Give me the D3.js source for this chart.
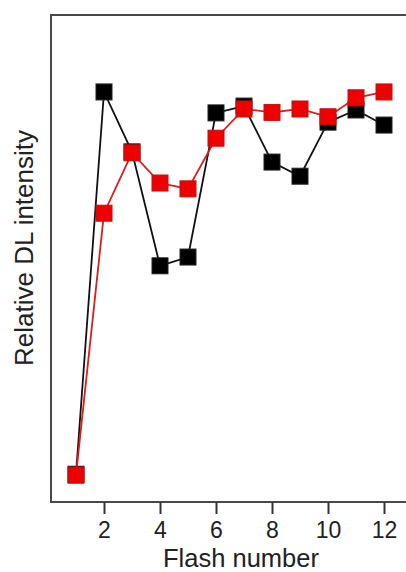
<!DOCTYPE html>
<html>
<head>
<meta charset="utf-8">
<script src="https://cdn.jsdelivr.net/npm/d3@7"></script>
<style>
  html, body { margin: 0; padding: 0; background: #fff; }
  svg { display: block; }
</style>
</head>
<body>
<svg id="chart" width="406" height="572"></svg>
<script>
const flashes = [1, 2, 3, 4, 5, 6, 7, 8, 9, 10, 11, 12];
const blackSeries = [0.057, 0.842, 0.719, 0.485, 0.503, 0.799, 0.813, 0.698, 0.669, 0.780, 0.805, 0.774];
const redSeries   = [0.055, 0.593, 0.717, 0.655, 0.643, 0.747, 0.807, 0.800, 0.807, 0.791, 0.830, 0.842];
const xTicks = [2, 4, 6, 8, 10, 12];
const xLabel = "Flash number";
const yLabel = "Relative DL intensity";

(function () {
const svg = d3.select("#chart");
const font = "'Liberation Sans', Arial, sans-serif";

const plotLeft = 51, plotTop = 15, plotBottom = 502;
const x = d3.scaleLinear().domain([1, 12]).range([76, 384]);
const y = d3.scaleLinear().domain([0, 1]).range([plotBottom, plotTop]);
const plotRight = x(13.2);

// frame
svg.append("path")
  .attr("d", `M${plotRight},${plotTop}H${plotLeft}V${plotBottom}H${plotRight}`)
  .attr("fill", "none")
  .attr("stroke", "#4a4a4a")
  .attr("stroke-width", 2);

// x axis ticks
const xAxis = d3.axisBottom(x).tickValues(xTicks).tickSize(12).tickPadding(8).tickFormat(d3.format("d"));
const gx = svg.append("g").attr("transform", `translate(0,${plotBottom})`).call(xAxis);
gx.select(".domain").remove();
gx.selectAll(".tick line").attr("stroke", "#333").attr("stroke-width", 2);
gx.selectAll(".tick text")
  .attr("fill", "#222")
  .attr("font-family", font)
  .attr("font-size", 23)
  .attr("dy", "0.71em");

// axis titles
svg.append("text")
  .attr("x", 241).attr("y", 567)
  .attr("text-anchor", "middle")
  .attr("font-family", font).attr("font-size", 25.5).attr("fill", "#222")
  .text(xLabel);

svg.append("text")
  .attr("transform", `translate(33,248) rotate(-90)`)
  .attr("text-anchor", "middle")
  .attr("font-family", font).attr("font-size", 26).attr("fill", "#222")
  .text(yLabel);

const line = d3.line().x((d, i) => x(flashes[i])).y(d => y(d));
const ms = 16;

function drawSeries(values, lineColor, fill, stroke) {
  svg.append("path")
    .datum(values)
    .attr("d", line)
    .attr("fill", "none")
    .attr("stroke", lineColor)
    .attr("stroke-width", 1.8);
  svg.append("g").selectAll("rect")
    .data(values)
    .join("rect")
    .attr("x", (d, i) => x(flashes[i]) - ms / 2)
    .attr("y", d => y(d) - ms / 2)
    .attr("width", ms).attr("height", ms)
    .attr("fill", fill)
    .attr("stroke", stroke)
    .attr("stroke-width", 1);
}

drawSeries(blackSeries, "#111", "#000", "#222");
drawSeries(redSeries, "#d81e1e", "#ee0000", "#c01010");
})();
</script>
</body>
</html>
